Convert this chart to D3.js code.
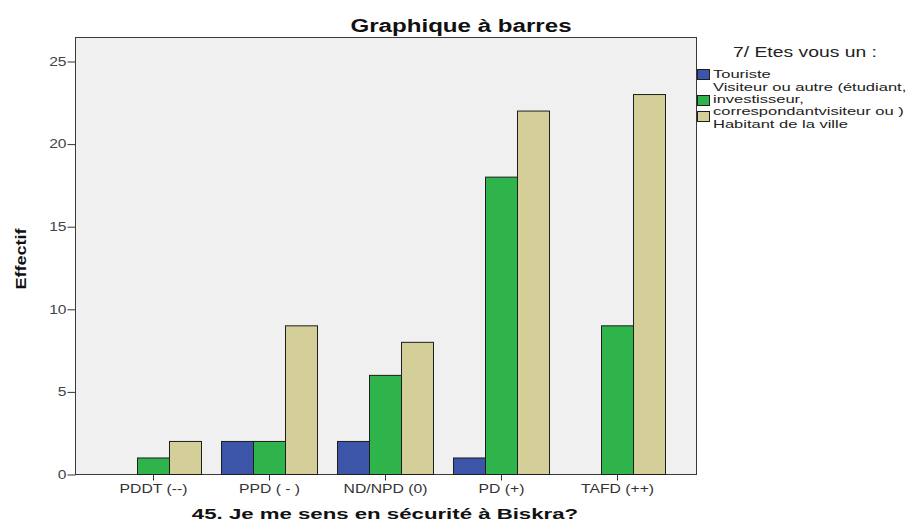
<!DOCTYPE html>
<html>
<head>
<meta charset="utf-8">
<script src="https://cdn.jsdelivr.net/npm/d3@7"></script>
<style>
  html, body { margin: 0; padding: 0; background: #ffffff; }
  svg { display: block; font-family: Arial, "Liberation Sans", sans-serif; }
</style>
</head>
<body>
<svg id="chart" width="909" height="521"></svg>
<script>
// Response categories for question 45
const categories = ["PDDT (--)", "PPD ( - )", "ND/NPD (0)", "PD (+)", "TAFD (++)"];
// Respondent groups (question 7)
const seriesNames = [
  "Touriste",
  "Visiteur ou autre (étudiant, investisseur, correspondantvisiteur ou )",
  "Habitant de la ville"
];
const touriste = [0, 2, 2, 1, 0];
const visiteur = [1, 2, 6, 18, 9];
const habitant = [2, 9, 8, 22, 23];
const seriesValues = [touriste, visiteur, habitant];
const yTicks = [0, 5, 10, 15, 20, 25];
const colors = ["#3c55a9", "#2fb34b", "#d4cf98"];

const FONT = "Arial, 'Liberation Sans', sans-serif";
const svg = d3.select("#chart");

// Widen text horizontally by a factor (wide-glyph look of the export)
function widen(sel, k) {
  sel.each(function () {
    const w = this.getComputedTextLength();
    d3.select(this).attr("textLength", w * k).attr("lengthAdjust", "spacingAndGlyphs");
  });
  return sel;
}

const plot = { left: 75.5, right: 696.5, top: 37.5, bottom: 474.5 };

// Plot background
svg.append("rect")
  .attr("x", plot.left).attr("y", plot.top)
  .attr("width", plot.right - plot.left).attr("height", plot.bottom - plot.top)
  .attr("fill", "#f0f0f0").attr("stroke", "#3a3a3a").attr("stroke-width", 1);

const y = d3.scaleLinear().domain([0, 25]).range([474, 61]);
const x0 = d3.scaleBand().domain(categories).range([95, 675]).paddingInner(0).paddingOuter(0);
const x1 = d3.scaleBand().domain(d3.range(seriesNames.length)).range([0, 96]);

// Bars
const groups = svg.append("g").selectAll("g")
  .data(categories)
  .join("g")
  .attr("transform", d => `translate(${x0(d) + (x0.bandwidth() - 96) / 2},0)`);

groups.selectAll("rect")
  .data((d, i) => seriesValues.map((vals, s) => ({ s, v: vals[i] })).filter(o => o.v > 0))
  .join("rect")
  .attr("x", d => x1(d.s) + 0.5)
  .attr("y", d => y(d.v) + 0.5)
  .attr("width", x1.bandwidth())
  .attr("height", d => y(0) - y(d.v))
  .attr("fill", d => colors[d.s])
  .attr("stroke", "#1e1e1e")
  .attr("stroke-width", 1);

// Y axis
const yAxis = d3.axisLeft(y).tickValues(yTicks).tickSize(8).tickPadding(1);
const gy = svg.append("g").attr("transform", `translate(${plot.left},0.5)`).call(yAxis);
gy.select(".domain").remove();
gy.selectAll(".tick line").attr("stroke", "#333");
gy.selectAll(".tick text").attr("font-size", 12).attr("fill", "#444").attr("font-family", FONT);
widen(gy.selectAll(".tick text"), 1.3);

// X axis
const xAxis = d3.axisBottom(x0).tickSize(6).tickPadding(4);
const gx = svg.append("g").attr("transform", `translate(0.5,${plot.bottom})`).call(xAxis);
gx.select(".domain").remove();
gx.selectAll(".tick line").attr("stroke", "#333");
gx.selectAll(".tick text").attr("font-size", 12).attr("fill", "#333").attr("font-family", FONT);
widen(gx.selectAll(".tick text"), 1.31);

// Titles
widen(svg.append("text")
  .attr("x", 461).attr("y", 32)
  .attr("text-anchor", "middle")
  .attr("font-size", 18).attr("font-weight", "bold").attr("fill", "#111")
  .text("Graphique à barres"), 1.34);

widen(svg.append("text")
  .attr("x", 385).attr("y", 519)
  .attr("text-anchor", "middle")
  .attr("font-size", 15).attr("font-weight", "bold").attr("fill", "#111")
  .text("45. Je me sens en sécurité à Biskra?"), 1.48);

widen(svg.append("text")
  .attr("transform", "translate(26,259) rotate(-90)")
  .attr("text-anchor", "middle")
  .attr("font-size", 15).attr("font-weight", "bold").attr("fill", "#111")
  .text("Effectif"), 1.2);

// Legend
const legend = svg.append("g");
widen(legend.append("text")
  .attr("x", 733).attr("y", 57)
  .attr("font-size", 14).attr("fill", "#222")
  .text("7/ Etes vous un :"), 1.38);

const legendItems = [
  { lines: ["Touriste"], sy: 69 },
  { lines: ["Visiteur ou autre (étudiant,", "investisseur,", "correspondantvisiteur ou )"], sy: 95 },
  { lines: ["Habitant de la ville"], sy: 111 }
];
const lineBases = [[78], [91, 103, 115], [128]];
legendItems.forEach((item, i) => {
  legend.append("rect")
    .attr("x", 697.5).attr("y", item.sy + 0.5)
    .attr("width", 12).attr("height", 10)
    .attr("fill", colors[i]).attr("stroke", "#1e1e1e");
  item.lines.forEach((ln, j) => {
    widen(legend.append("text")
      .attr("x", 713).attr("y", lineBases[i][j])
      .attr("font-size", 11).attr("fill", "#222")
      .text(ln), 1.5);
  });
});
</script>
</body>
</html>
